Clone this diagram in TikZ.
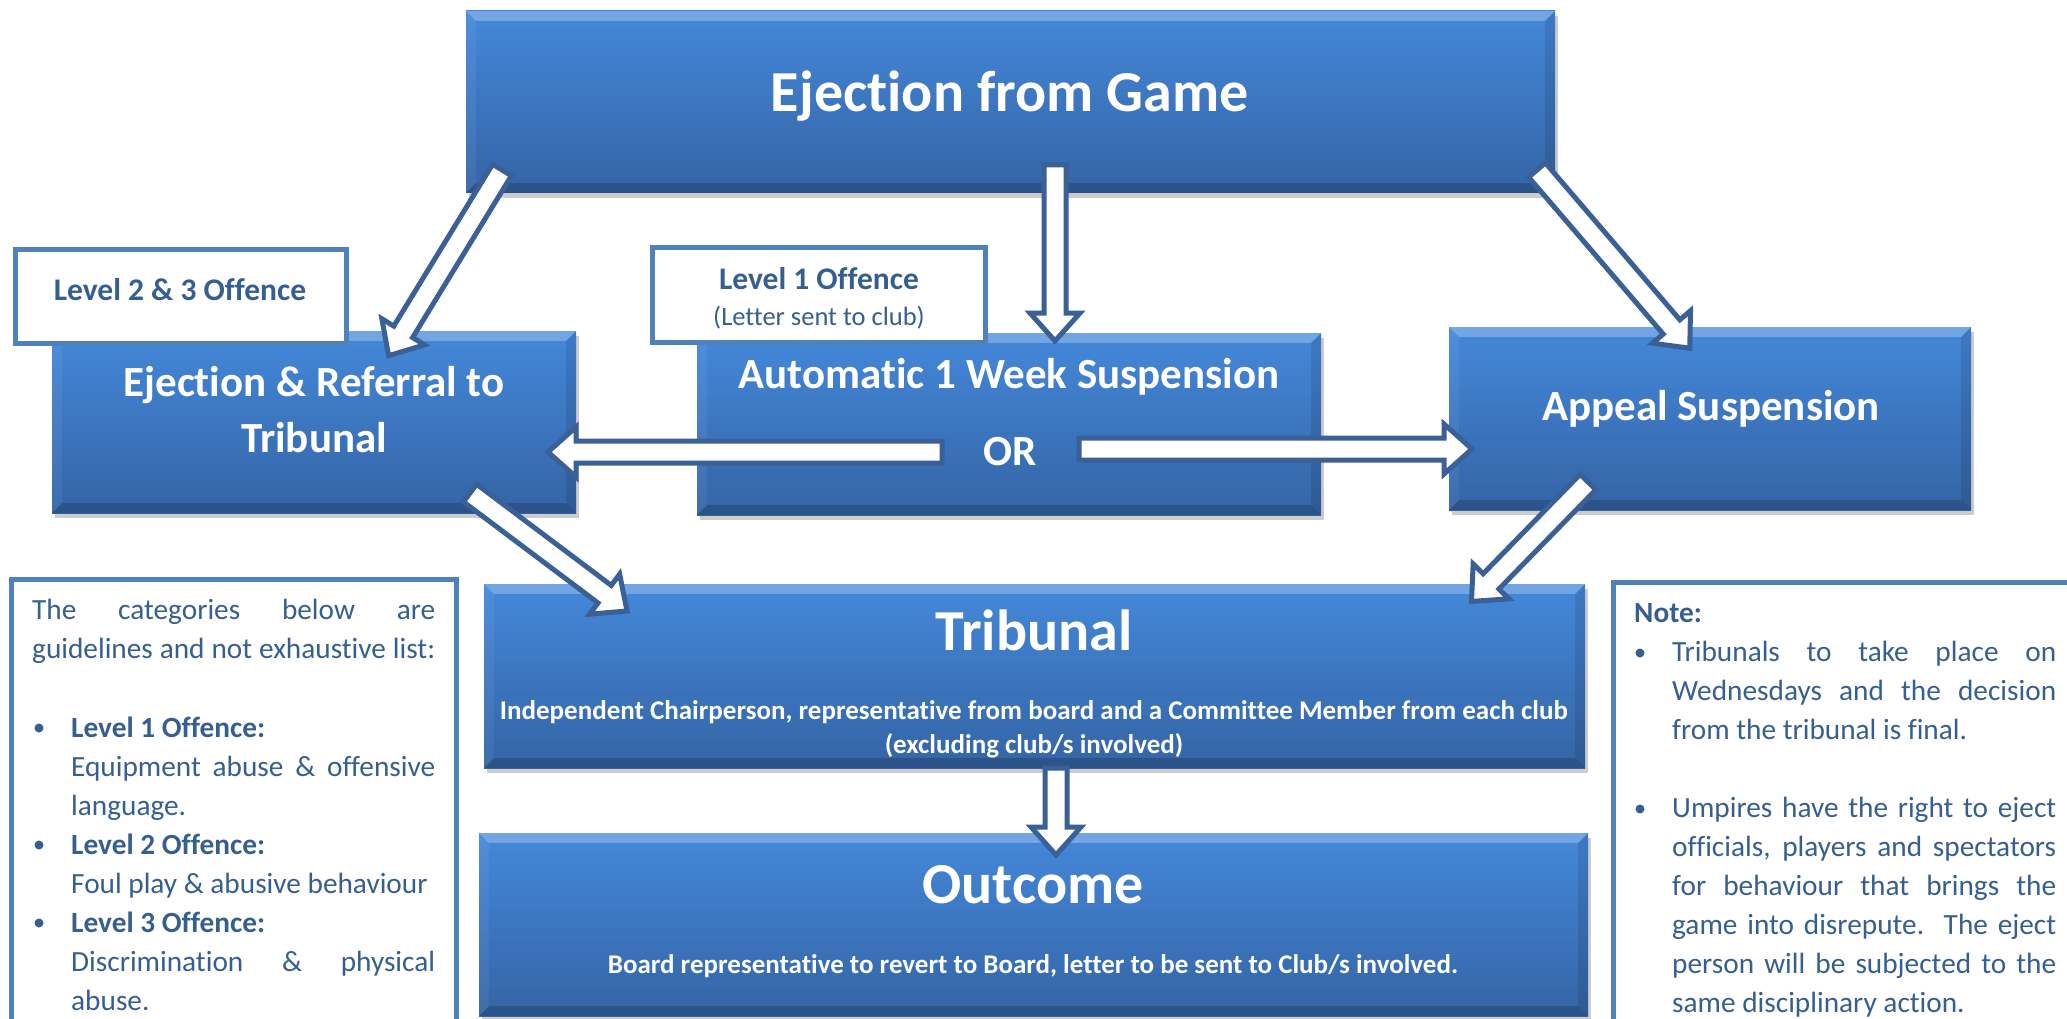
\documentclass[tikz,border=0pt]{standalone}
\usepackage{fontspec}
\setmainfont{Carlito}[Ligatures=NoCommon]
\usetikzlibrary{shadows,calc}
\definecolor{boxtop}{RGB}{68,136,218}
\definecolor{boxbot}{RGB}{52,100,165}
\definecolor{arrowblue}{RGB}{58,96,150}
\definecolor{notetext}{RGB}{54,95,145}
\definecolor{noteframe}{RGB}{79,129,189}
\newcommand\fsz[2]{\fontsize{#1}{#2}\selectfont}
\tikzset{
  bluebox/.style={rectangle, inner sep=0, top color=boxtop, bottom color=boxbot, draw=none,
    drop shadow={shadow xshift=3pt, shadow yshift=-5pt, opacity=0.2, fill=black}},
  whitebox/.style={rectangle, inner sep=0, fill=white, draw=noteframe, line width=5pt},
  arrowline/.style={draw=arrowblue, fill=white, line width=5pt, line join=miter, miter limit=10},
  wtext/.style={text=white, inner sep=0, anchor=base, font=\bfseries},
  btext/.style={text=notetext, inner sep=0, anchor=base},
  ntext/.style={text=notetext, inner sep=0, anchor=base west, font=\fsz{29.3}{39}},
  bulletdot/.style={fill=notetext},
}
\newcommand\bevel[1]{%
  \fill[white,opacity=.25] (#1.north west) -- (#1.north east) -- ([shift={(-10pt,-10pt)}]#1.north east) -- ([shift={(10pt,-10pt)}]#1.north west) -- cycle;
  \fill[white,opacity=.06] (#1.north west) -- ([shift={(10pt,-10pt)}]#1.north west) -- ([shift={(10pt,10pt)}]#1.south west) -- (#1.south west) -- cycle;
  \fill[black,opacity=.10] (#1.north east) -- ([shift={(-10pt,-10pt)}]#1.north east) -- ([shift={(-10pt,10pt)}]#1.south east) -- (#1.south east) -- cycle;
  \fill[black,opacity=.17] (#1.south west) -- ([shift={(10pt,10pt)}]#1.south west) -- ([shift={(-10pt,10pt)}]#1.south east) -- (#1.south east) -- cycle;
}
\newcommand\blockarrow[2]{%
  \path let \p1=(#1), \p2=(#2), \n1={atan2(\y2-\y1,\x2-\x1)}, \n2={veclen(\x2-\x1,\y2-\y1)} in
    \pgfextra{\xdef\arrang{\n1}\xdef\arrlen{\n2}\xdef\arrx{\x1}\xdef\arry{\y1}};
  \draw[arrowline, shift={(\arrx,\arry)}, rotate=\arrang]
    (0pt,11pt) -- (\arrlen-33pt,11pt) -- (\arrlen-33pt,25pt) -- (\arrlen-5pt,0pt)
    -- (\arrlen-33pt,-25pt) -- (\arrlen-33pt,-11pt) -- (0pt,-11pt) -- cycle;
}
\begin{document}
\begin{tikzpicture}[x=1pt,y=-1pt]
\useasboundingbox (0,0) rectangle (2067,1019);
\clip (0,0) rectangle (2067,1019);
\fill[white] (0,0) rectangle (2067,1019);

% blue boxes
\node[bluebox, minimum width=1089pt, minimum height=182pt] (game) at (1010.5,102) {};
\node[bluebox, minimum width=524pt, minimum height=182pt] (eject) at (314,422) {};
\node[bluebox, minimum width=624pt, minimum height=182pt] (auto) at (1009,424) {};
\node[bluebox, minimum width=522pt, minimum height=183pt] (appeal) at (1710,418.5) {};
\node[bluebox, minimum width=1101pt, minimum height=184pt] (trib) at (1034.5,676) {};
\node[bluebox, minimum width=1109pt, minimum height=183pt] (outc) at (1033.5,924.5) {};
\bevel{game}\bevel{eject}\bevel{auto}\bevel{appeal}\bevel{trib}\bevel{outc}

% white boxes
\node[whitebox, minimum width=331pt, minimum height=94pt] (lvl23) at (181,296.5) {};
\node[whitebox, minimum width=333pt, minimum height=95pt] (lvl1) at (819,295) {};
\node[whitebox, minimum width=445pt, minimum height=470pt] (leftnote) at (234,814.5) {};
\node[whitebox, minimum width=480pt, minimum height=470pt] (rightnote) at (1853.5,817) {};

% texts in blue boxes
\node[wtext, font=\bfseries\fsz{58}{70}] (tgame) at (1010,112) {Ejection from Game};
\node[wtext, font=\bfseries\fsz{43}{56}] (tej1) at (314,396) {Ejection \& Referral to};
\node[wtext, font=\bfseries\fsz{43}{56}] (tej2) at (314,452) {Tribunal};
\node[wtext, font=\bfseries\fsz{43}{56}] (tauto) at (1009,388) {Automatic 1 Week Suspension};
\node[wtext, font=\bfseries\fsz{43}{56}] (tor) at (1010,465) {OR};
\node[wtext, font=\bfseries\fsz{43}{56}] (tapp) at (1711,420) {Appeal Suspension};
\node[wtext, font=\bfseries\fsz{58}{70}] (ttrib) at (1034,650) {Tribunal};
\node[wtext, font=\bfseries\fsz{27}{34}] (ttrib1) at (1034,719) {Independent Chairperson, representative from board and a Committee Member from each club};
\node[wtext, font=\bfseries\fsz{27}{34}] (ttrib2) at (1034,753) {(excluding club/s involved)};
\node[wtext, font=\bfseries\fsz{58}{70}] (toutc) at (1033,903) {Outcome};
\node[wtext, font=\bfseries\fsz{27}{34}] (toutc1) at (1033,973) {Board representative to revert to Board, letter to be sent to Club/s involved.};

% texts in white boxes
\node[btext, font=\bfseries\fsz{31.5}{40}] (t23) at (180,300) {Level 2 \& 3 Offence};
\node[btext, font=\bfseries\fsz{31.5}{40}] (t1a) at (819,289) {Level 1 Offence};
\node[btext, font=\fsz{26.5}{34}] (t1b) at (819,325) {(Letter sent to club)};

% left note
\node[ntext] (l1) at (32,619) {\makebox[403pt][s]{The categories below are}};
\node[ntext] (l2) at (32,658) {\makebox[403pt][s]{guidelines and not exhaustive list:}};
\node[ntext, font=\bfseries\fsz{29.3}{39}] (l3) at (71,737) {Level 1 Offence:};
\node[ntext] (l4) at (71,776) {\makebox[364pt][s]{Equipment abuse \& offensive}};
\node[ntext] (l5) at (71,815) {language.};
\node[ntext, font=\bfseries\fsz{29.3}{39}] (l6) at (71,854) {Level 2 Offence:};
\node[ntext] (l7) at (71,893) {Foul play \& abusive behaviour};
\node[ntext, font=\bfseries\fsz{29.3}{39}] (l8) at (71,932) {Level 3 Offence:};
\node[ntext] (l9) at (71,971) {\makebox[364pt][s]{Discrimination \& physical}};
\node[ntext] (l10) at (71,1010) {abuse.};
\fill[bulletdot] (39,728) circle (4.5pt);
\fill[bulletdot] (39,845) circle (4.5pt);
\fill[bulletdot] (39,923) circle (4.5pt);

% right note
\node[ntext, font=\bfseries\fsz{29.3}{39}] (r0) at (1634,622) {Note:};
\node[ntext] (r1) at (1672,661) {\makebox[384pt][s]{Tribunals to take place on}};
\node[ntext] (r2) at (1672,700) {\makebox[384pt][s]{Wednesdays and the decision}};
\node[ntext] (r3) at (1672,739) {from the tribunal is final.};
\node[ntext] (r4) at (1672,817) {\makebox[384pt][s]{Umpires have the right to eject}};
\node[ntext] (r5) at (1672,856) {\makebox[384pt][s]{officials, players and spectators}};
\node[ntext] (r6) at (1672,895) {\makebox[384pt][s]{for behaviour that brings the}};
\node[ntext] (r7) at (1672,934) {\makebox[384pt][s]{game into disrepute.\ \ The eject}};
\node[ntext] (r8) at (1672,973) {\makebox[384pt][s]{person will be subjected to the}};
\node[ntext] (r9) at (1672,1012) {same disciplinary action.};
\fill[bulletdot] (1640,653) circle (4.5pt);
\fill[bulletdot] (1640,809) circle (4.5pt);

% arrow end points
\coordinate (a1s) at (502,170);  \coordinate (a1e) at (386,360);
\coordinate (a2s) at (1055,165); \coordinate (a2e) at (1055,346);
\coordinate (a3s) at (1537,170); \coordinate (a3e) at (1693,352);
\coordinate (a4s) at (942,452);  \coordinate (a4e) at (543,452);
\coordinate (a5s) at (1079,449); \coordinate (a5e) at (1477,449);
\coordinate (a6s) at (470,493);  \coordinate (a6e) at (631,614);
\coordinate (a7s) at (1588,482); \coordinate (a7e) at (1468,605);
\coordinate (a8s) at (1056,768); \coordinate (a8e) at (1056,860);
\blockarrow{a1s}{a1e}
\blockarrow{a2s}{a2e}
\blockarrow{a3s}{a3e}
\blockarrow{a4s}{a4e}
\blockarrow{a5s}{a5e}
\blockarrow{a6s}{a6e}
\blockarrow{a7s}{a7e}
\blockarrow{a8s}{a8e}
\end{tikzpicture}
\end{document}
